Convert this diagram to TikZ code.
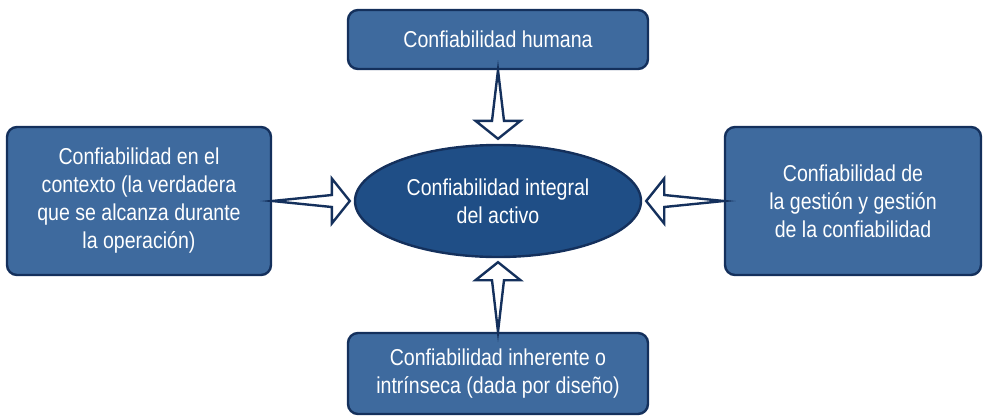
\documentclass[tikz,border=0pt]{standalone}
\usepackage{fontspec}
\setmainfont{Liberation Sans}[FakeStretch=0.85]
\usetikzlibrary{shapes.geometric,calc}
\definecolor{boxfill}{RGB}{62,106,158}
\definecolor{boxline}{RGB}{20,48,92}
\definecolor{ellfill}{RGB}{31,78,134}
\newcommand\fatarr[2]{%
  \draw[arrowstyle]
    let \p1=(#1), \p2=(#2) in
    coordinate (hb) at ($(#2)!18pt!(#1)$)
    (#1) -- ($(hb)!6pt!90:(#2)$) -- ($(hb)!22.5pt!90:(#2)$) -- (#2)
    -- ($(hb)!22.5pt!-90:(#2)$) -- ($(hb)!6pt!-90:(#2)$) -- cycle;}
\begin{document}
\begin{tikzpicture}[x=1pt,y=-1pt,
  box/.style={draw=boxline, line width=2.4pt, fill=boxfill, rounded corners=10pt,
    text=white, align=center, inner sep=0pt, font=\fontsize{23}{28}\selectfont},
  arrowstyle/.style={draw=boxline, line width=2.4pt, fill=white, line join=miter}]
\useasboundingbox (0,0) rectangle (987,416);
\node[box, minimum width=300pt, minimum height=59pt] (top) at (498,39.5) {Confiabilidad humana};
\node[box, minimum width=300pt, minimum height=81pt] (bot) at (498,373.5) {Confiabilidad inherente o\\intrínseca (dada por diseño)};
\node[box, minimum width=264pt, minimum height=148pt] (left) at (139,201) {Confiabilidad en el\\contexto (la verdadera\\que se alcanza durante\\la operación)};
\node[box, minimum width=256pt, minimum height=148pt] (right) at (853,201) {Confiabilidad de\\la gestión y gestión\\de la confiabilidad};
\node[ellipse, draw=boxline, line width=2.4pt, fill=ellfill, text=white, align=center,
  inner sep=0pt, minimum width=286pt, minimum height=112pt,
  font=\fontsize{23}{28}\selectfont] (ell) at (498,201) {Confiabilidad integral\\del activo};
\coordinate (tT) at ($(ell.north)+(0,-5)$);
\coordinate (tB) at ($(ell.south)+(0,4)$);
\coordinate (tL) at ($(ell.west)+(-4,0)$);
\coordinate (tR) at ($(ell.east)+(4,0)$);
\fatarr{top.south}{tT}
\fatarr{bot.north}{tB}
\fatarr{left.east}{tL}
\fatarr{right.west}{tR}
\end{tikzpicture}
\end{document}
